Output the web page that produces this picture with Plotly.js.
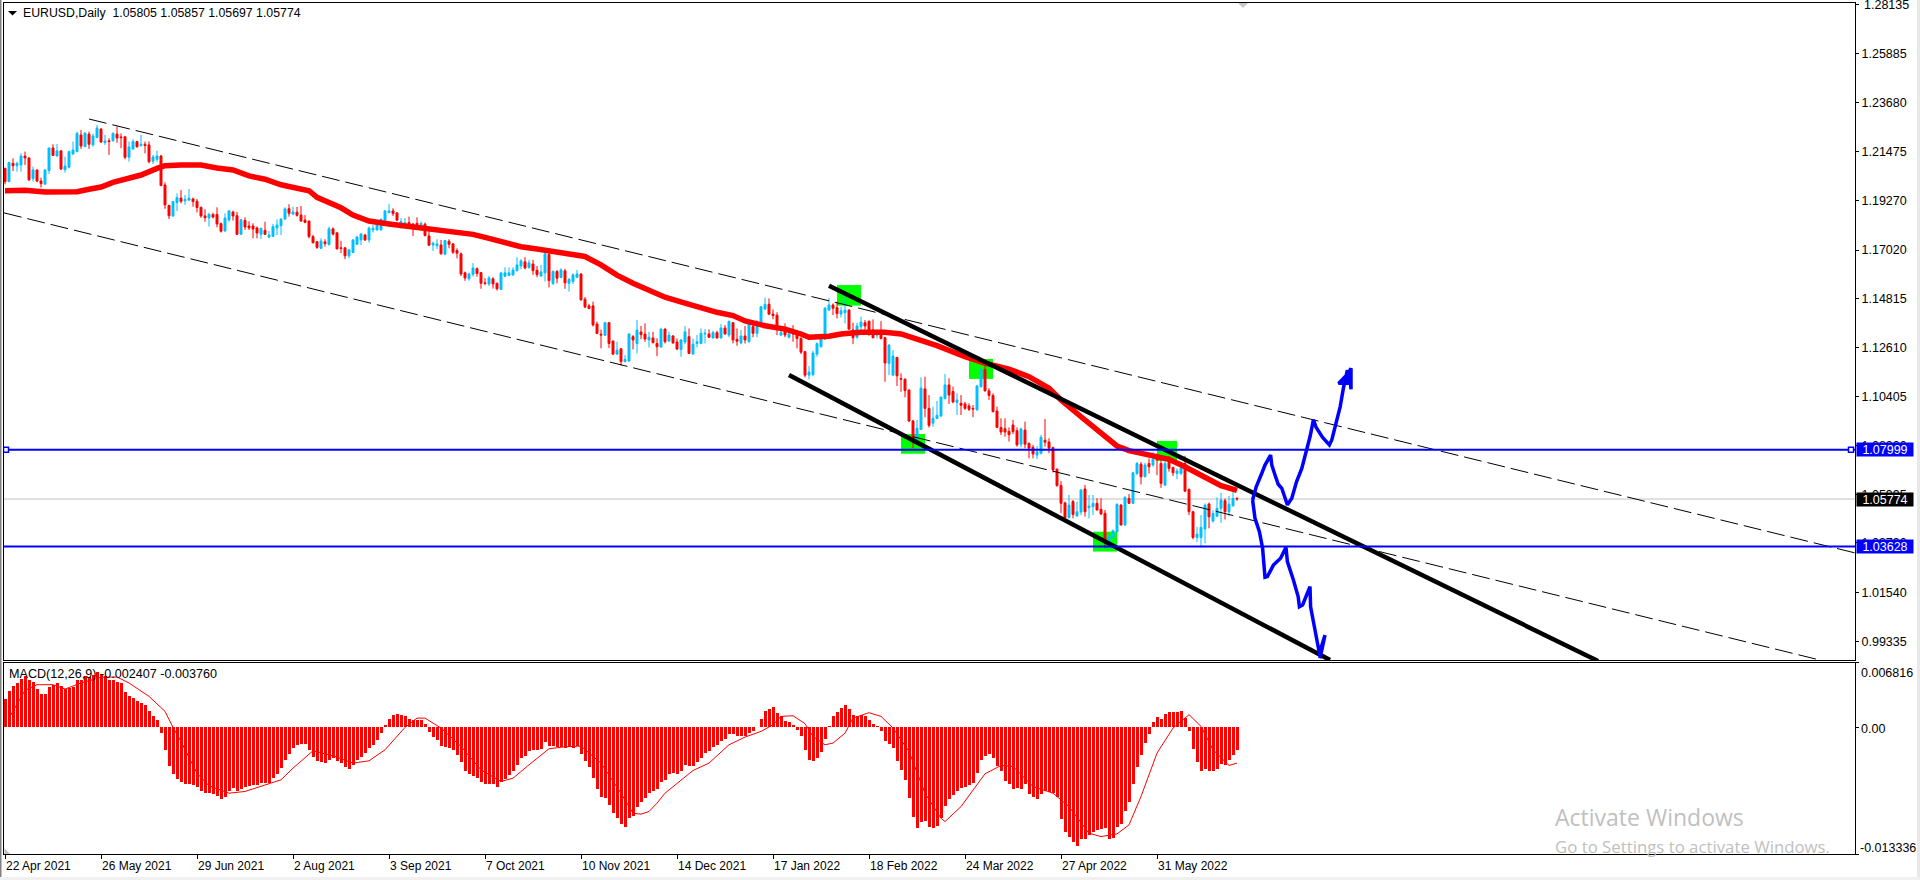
<!DOCTYPE html>
<html><head><meta charset="utf-8">
<script src="https://cdn.plot.ly/plotly-3.0.1.min.js"></script>
<style>html,body{margin:0;padding:0;background:#fff;overflow:hidden}#c{width:1920px;height:880px}</style>
</head><body><div id="c"></div>
<script>
const open=[1.2071,1.2011,1.2094,1.2083,1.2086,1.2127,1.2118,1.2025,1.2064,1.2014,
1.2000,1.2061,1.2163,1.2127,1.2150,1.2065,1.2076,1.2136,1.2147,1.2222,
1.2169,1.2226,1.2177,1.2211,1.2249,1.2187,1.2196,1.2196,1.2226,1.2213,
1.2214,1.2121,1.2159,1.2192,1.2174,1.2180,1.2177,1.2103,1.2112,1.2127,
1.1996,1.1904,1.1856,1.1916,1.1937,1.1924,1.1928,1.1933,1.1922,1.1895,
1.1856,1.1847,1.1863,1.1863,1.1821,1.1788,1.1838,1.1874,1.1857,1.1773,
1.1836,1.1811,1.1811,1.1802,1.1773,1.1791,1.1761,1.1764,1.1802,1.1812,
1.1842,1.1889,1.1865,1.1873,1.1860,1.1838,1.1833,1.1763,1.1740,
1.1710,1.1739,1.1727,1.1798,1.1780,1.1712,1.1712,1.1676,1.1691,1.1728,
1.1748,1.1770,1.1748,1.1793,1.1793,1.1793,1.1834,1.1871,1.1879,1.1870,
1.1804,1.1816,1.1826,1.1820,1.1823,1.1808,1.1819,1.1766,1.1725,1.1722,
1.1725,1.1683,1.1742,1.1730,1.1700,1.1685,1.1599,1.1572,1.1593,1.1618,
1.1600,1.1554,1.1549,1.1572,1.1552,1.1524,1.1584,1.1588,1.1590,1.1609,
1.1630,1.1649,1.1623,1.1639,1.1611,1.1585,1.1599,1.1682,1.1551,1.1605,
1.1578,1.1608,1.1552,1.1560,1.1579,1.1594,1.1480,1.1450,1.1450,1.1368,
1.1322,1.1317,1.1374,1.1291,1.1232,1.1256,1.1198,1.1201,1.1311,1.1280,
1.1332,1.1323,1.1296,1.1305,1.1280,1.1264,1.1345,1.1291,1.1314,1.1287,
1.1253,1.1287,1.1311,1.1232,1.1280,1.1280,1.1323,1.1323,1.1305,1.1329,
1.1305,1.1350,1.1318,1.1374,1.1299,1.1282,1.1314,1.1288,1.1357,1.1326,
1.1371,1.1436,1.1457,1.1413,1.1408,1.1318,1.1345,1.1308,1.1341,1.1323,
1.1303,1.1243,1.1137,1.1139,1.1232,1.1265,1.1299,1.1431,1.1454,1.1442,
1.1413,1.1419,1.1431,1.1341,1.1308,1.1356,1.1374,1.1381,1.1341,1.1318,
1.1329,1.1306,1.1190,1.1137,1.1217,1.1122,1.1119,1.1070,1.0930,1.0847,
1.0892,1.1075,1.0987,1.0920,1.0941,1.0953,1.1031,1.1093,1.1063,1.1013,
1.1010,1.1007,1.0998,1.0987,1.0980,1.1085,1.1163,1.1066,1.1045,1.0975,
1.0901,1.0895,1.0883,1.0912,1.0886,1.0825,1.0889,1.0829,1.0811,1.0776,
1.0784,1.0843,1.0835,1.0810,1.0712,1.0639,1.0560,1.0493,1.0566,1.0501,
1.0519,1.0623,1.0538,1.0543,1.0558,1.0531,1.0513,1.0383,1.0404,1.0429,
1.0550,1.0460,1.0580,1.0558,1.0693,1.0735,1.0678,1.0738,1.0731,1.0765,
1.0738,1.0640,1.0761,1.0720,1.0693,1.0693,1.0738,1.0621,1.0520,1.0404,
1.0404,1.0442,1.0555,1.0478,1.0500,1.0535,1.0570,1.0520,1.0547,1.05805];
const high=[1.2074,1.2100,1.2116,1.2101,1.2139,1.2147,1.2121,1.2079,1.2066,1.2029,
1.2067,1.2165,1.2180,1.2181,1.2154,1.2124,1.2151,1.2192,1.2237,1.2244,
1.2233,1.2237,1.2229,1.2267,1.2252,1.2222,1.2207,1.2234,1.2260,1.2229,
1.2216,1.2192,1.2202,1.2195,1.2222,1.2192,1.2193,1.2132,1.2151,1.2132,
1.2008,1.1906,1.1924,1.1958,1.1973,1.1951,1.1978,1.1939,1.1933,1.1898,
1.1886,1.1871,1.1871,1.1895,1.1826,1.1868,1.1883,1.1880,1.1875,1.1841,
1.1850,1.1832,1.1823,1.1808,1.1803,1.1830,1.1788,1.1820,1.1841,1.1845,
1.1895,1.1909,1.1898,1.1897,1.1901,1.1860,1.1835,1.1770,1.1743,
1.1755,1.1751,1.1808,1.1804,1.1781,1.1743,1.1715,1.1707,1.1751,1.1766,
1.1778,1.1775,1.1808,1.1816,1.1830,1.1845,1.1883,1.1911,1.1891,1.1873,
1.1846,1.1846,1.1853,1.1823,1.1850,1.1831,1.1826,1.1796,1.1740,1.1751,
1.1748,1.1748,1.1751,1.1733,1.1710,1.1691,1.1605,1.1600,1.1643,1.1623,
1.1603,1.1575,1.1585,1.1579,1.1555,1.1600,1.1624,1.1624,1.1624,1.1670,
1.1661,1.1670,1.1658,1.1658,1.1630,1.1635,1.1688,1.1710,1.1609,1.1612,
1.1620,1.1617,1.1575,1.1597,1.1612,1.1597,1.1490,1.1459,1.1469,1.1379,
1.1343,1.1378,1.1377,1.1293,1.1288,1.1259,1.1228,1.1326,1.1318,1.1386,
1.1359,1.1371,1.1333,1.1333,1.1303,1.1348,1.1348,1.1333,1.1318,1.1303,
1.1299,1.1359,1.1348,1.1303,1.1318,1.1348,1.1345,1.1344,1.1338,1.1338,
1.1368,1.1363,1.1383,1.1377,1.1348,1.1341,1.1359,1.1371,1.1371,1.1386,
1.1449,1.1487,1.1484,1.1434,1.1421,1.1356,1.1371,1.1348,1.1363,1.1341,
1.1308,1.1246,1.1178,1.1247,1.1284,1.1323,1.1443,1.1485,1.1461,1.1469,
1.1446,1.1491,1.1434,1.1374,1.1374,1.1401,1.1386,1.1383,1.1389,1.1341,
1.1381,1.1309,1.1276,1.1250,1.1220,1.1145,1.1122,1.1072,1.0935,1.0935,
1.1127,1.1130,1.1047,1.0995,1.1020,1.1040,1.1142,1.1123,1.1085,1.1055,
1.1047,1.1017,1.1010,1.1002,1.1093,1.1168,1.1206,1.1078,1.1055,1.0995,
1.0942,1.0942,1.0901,1.0935,1.0901,1.0900,1.0927,1.0832,1.0822,1.0817,
1.0867,1.0939,1.0852,1.0814,1.0716,1.0659,1.0566,1.0596,1.0573,1.0566,
1.0623,1.0641,1.0596,1.0596,1.0581,1.0581,1.0528,1.0420,1.0440,1.0557,
1.0555,1.0590,1.0600,1.0700,1.0745,1.0745,1.0741,1.0761,1.0791,1.0783,
1.0753,1.0761,1.0771,1.0723,1.0716,1.0746,1.0773,1.0625,1.0524,1.0452,
1.0505,1.0558,1.0561,1.0527,1.0585,1.0606,1.0580,1.0591,1.0610,1.05857];
const low=[1.1999,1.2009,1.2059,1.2056,1.2056,1.2086,1.2014,1.2011,1.2008,1.1984,
1.1996,1.2046,1.2127,1.2124,1.2064,1.2052,1.2071,1.2132,1.2144,1.2159,
1.2167,1.2159,1.2169,1.2207,1.2187,1.2177,1.2132,1.2192,1.2187,1.2162,
1.2112,1.2101,1.2154,1.2166,1.2169,1.2139,1.2094,1.2091,1.2101,1.1991,
1.1888,1.1842,1.1853,1.1879,1.1913,1.1906,1.1924,1.1898,1.1872,1.1848,
1.1830,1.1808,1.1845,1.1805,1.1781,1.1785,1.1830,1.1835,1.1770,1.1770,
1.1793,1.1793,1.1755,1.1755,1.1752,1.1770,1.1755,1.1761,1.1770,1.1770,
1.1838,1.1853,1.1860,1.1853,1.1830,1.1823,1.1755,1.1732,1.1707,
1.1706,1.1718,1.1722,1.1768,1.1706,1.1688,1.1661,1.1665,1.1688,1.1725,
1.1725,1.1743,1.1736,1.1781,1.1790,1.1790,1.1831,1.1868,1.1856,1.1834,
1.1799,1.1801,1.1801,1.1766,1.1796,1.1793,1.1763,1.1721,1.1698,1.1706,
1.1682,1.1680,1.1710,1.1685,1.1665,1.1585,1.1563,1.1564,1.1582,1.1582,
1.1527,1.1543,1.1540,1.1528,1.1519,1.1522,1.1579,1.1585,1.1585,1.1605,
1.1615,1.1615,1.1618,1.1590,1.1579,1.1582,1.1560,1.1533,1.1545,1.1552,
1.1575,1.1527,1.1514,1.1549,1.1575,1.1474,1.1439,1.1435,1.1356,1.1330,
1.1258,1.1314,1.1259,1.1228,1.1228,1.1180,1.1196,1.1198,1.1253,1.1235,
1.1299,1.1287,1.1262,1.1280,1.1223,1.1261,1.1280,1.1287,1.1280,1.1250,
1.1220,1.1277,1.1232,1.1231,1.1262,1.1277,1.1280,1.1306,1.1302,1.1302,
1.1302,1.1320,1.1308,1.1280,1.1270,1.1277,1.1280,1.1284,1.1308,1.1308,
1.1368,1.1431,1.1408,1.1389,1.1318,1.1314,1.1308,1.1303,1.1288,1.1258,
1.1232,1.1127,1.1118,1.1134,1.1220,1.1262,1.1296,1.1428,1.1408,1.1393,
1.1398,1.1371,1.1341,1.1277,1.1302,1.1333,1.1333,1.1314,1.1303,1.1303,
1.1299,1.1107,1.1137,1.1134,1.1088,1.1062,1.1037,1.0925,1.0807,1.0844,
1.0889,1.0947,1.0900,1.0904,1.0938,1.0947,1.1028,1.1007,1.1010,1.0957,
1.0957,1.0980,1.0975,1.0947,1.0977,1.1081,1.1063,1.1025,1.0969,1.0898,
1.0867,1.0859,1.0837,1.0871,1.0814,1.0811,1.0807,1.0761,1.0761,1.0758,
1.0779,1.0814,1.0784,1.0697,1.0633,1.0513,1.0483,1.0490,1.0490,1.0498,
1.0505,1.0498,1.0490,1.0505,1.0525,1.0505,1.0355,1.0365,1.0400,1.0426,
1.0458,1.0458,1.0555,1.0555,1.0685,1.0643,1.0675,1.0693,1.0723,1.0685,
1.0628,1.0637,1.0701,1.0681,1.0667,1.0685,1.0610,1.0505,1.0395,1.0384,
1.0359,1.0377,1.0445,1.0470,1.0497,1.0470,1.0485,1.0500,1.0543,1.05697];
const close=[1.2011,1.2098,1.2083,1.2094,1.2127,1.2118,1.2019,1.2064,1.2014,1.2002,
1.2064,1.2163,1.2129,1.2150,1.2068,1.2082,1.2147,1.2154,1.2229,1.2172,
1.2231,1.2180,1.2217,1.2253,1.2190,1.2195,1.2192,1.2229,1.2208,1.2210,
1.2121,1.2168,1.2192,1.2168,1.2180,1.2174,1.2101,1.2122,1.2127,1.1993,
1.1906,1.1857,1.1921,1.1939,1.1922,1.1931,1.1937,1.1921,1.1894,1.1856,
1.1848,1.1863,1.1851,1.1820,1.1787,1.1847,1.1879,1.1856,1.1773,1.1839,
1.1806,1.1802,1.1797,1.1779,1.1800,1.1773,1.1770,1.1808,1.1815,1.1842,
1.1888,1.1868,1.1874,1.1859,1.1833,1.1827,1.1763,1.1735,1.1714,
1.1743,1.1731,1.1798,1.1774,1.1707,1.1709,1.1676,1.1703,1.1748,1.1761,
1.1775,1.1748,1.1801,1.1801,1.1823,1.1841,1.1879,1.1879,1.1867,1.1837,
1.1831,1.1826,1.1804,1.1808,1.1801,1.1823,1.1768,1.1724,1.1733,1.1730,
1.1685,1.1745,1.1728,1.1692,1.1688,1.1594,1.1576,1.1594,1.1621,1.1596,
1.1552,1.1551,1.1576,1.1549,1.1527,1.1599,1.1599,1.1599,1.1612,1.1635,
1.1653,1.1621,1.1644,1.1609,1.1591,1.1603,1.1685,1.1564,1.1606,1.1575,
1.1612,1.1554,1.1570,1.1590,1.1594,1.1477,1.1445,1.1438,1.1364,1.1325,
1.1318,1.1374,1.1280,1.1232,1.1250,1.1198,1.1208,1.1323,1.1296,1.1341,
1.1320,1.1300,1.1308,1.1284,1.1265,1.1345,1.1288,1.1318,1.1282,1.1255,
1.1296,1.1333,1.1235,1.1277,1.1288,1.1326,1.1326,1.1308,1.1329,1.1305,
1.1350,1.1323,1.1380,1.1296,1.1290,1.1314,1.1296,1.1368,1.1326,1.1356,
1.1446,1.1457,1.1413,1.1406,1.1348,1.1329,1.1318,1.1323,1.1323,1.1302,
1.1241,1.1137,1.1151,1.1237,1.1280,1.1303,1.1440,1.1454,1.1439,1.1415,
1.1428,1.1431,1.1345,1.1306,1.1359,1.1377,1.1359,1.1341,1.1306,1.1333,
1.1302,1.1192,1.1273,1.1223,1.1134,1.1119,1.1067,1.0930,1.0850,1.0897,
1.1078,1.0987,1.0910,1.0942,1.0956,1.1038,1.1093,1.1047,1.1016,1.1025,
1.1001,1.0987,1.0983,1.0984,1.1088,1.1163,1.1066,1.1045,1.0972,1.0901,
1.0880,1.0880,1.0868,1.0882,1.0822,1.0894,1.0825,1.0807,1.0781,1.0791,
1.0856,1.0834,1.0807,1.0709,1.0638,1.0558,1.0493,1.0550,1.0508,1.0520,
1.0618,1.0520,1.0546,1.0558,1.0528,1.0510,1.0392,1.0410,1.0434,1.0554,
1.0460,1.0585,1.0558,1.0696,1.0738,1.0678,1.0731,1.0723,1.0758,1.0753,
1.0648,1.0738,1.0716,1.0696,1.0704,1.0716,1.0613,1.0520,1.0404,1.0419,
1.0449,1.0550,1.0497,1.0512,1.0535,1.0573,1.0520,1.0554,1.0580,1.05774];
const bars=open.map((_,i)=>i);

const maBar=[0,5,10,15,18,21,24,27,30,34,38,40,44,49,53,57,61,65,69,72,76,78,84,87,91,96,100,104,109,113,117,121,125,129,133,137,141,145,149,153,157,161,165,170,174,178,182,185,190,195,199,201,206,209,214,220,224,229,233,240,245,251,256,261,264,269,274,278,281,286,291,295,300,304,308];
const maPrice=[1.1970,1.1972,1.1964,1.1963,1.1966,1.1977,1.1987,1.2008,1.2022,1.2041,1.2071,1.2083,1.2086,1.2086,1.2073,1.2064,1.2037,1.2022,1.1997,1.1986,1.1970,1.1940,1.1893,1.1860,1.1833,1.1820,1.1811,1.1803,1.1796,1.1788,1.1773,1.1755,1.1735,1.1717,1.1707,1.1696,1.1687,1.1673,1.1635,1.1589,1.1552,1.1518,1.1489,1.1462,1.1439,1.1421,1.1406,1.1382,1.1360,1.1345,1.1323,1.1308,1.1313,1.1323,1.1331,1.1331,1.1323,1.1293,1.1270,1.1220,1.1191,1.1164,1.1130,1.1078,1.1025,1.0949,1.0874,1.0817,1.0796,1.0776,1.0757,1.0723,1.0678,1.0638,1.0617];

// MACD values in units of 0.00001
const macdHist=[302,387,433,468,513,545,496,478,408,348,348,422,443,471,433,404,419,426,499,503,
538,528,556,584,566,538,503,496,482,468,376,334,309,278,257,239,169,116,74,-60,
-243,-411,-489,-542,-570,-591,-594,-605,-623,-665,-696,-696,-700,-721,-749,-728,-675,-640,-668,-651,
-633,-615,-605,-605,-587,-584,-584,-535,-492,-429,-345,-278,-222,-190,-179,-176,-236,-313,-352,-362,
-380,-348,-324,-352,-376,-422,-433,-394,-348,-313,-271,-222,-183,-130,-60,28,91,134,144,127,
123,88,74,74,74,32,-53,-106,-137,-200,-211,-222,-243,-292,-369,-454,-496,-510,-531,-570,
-601,-601,-601,-623,-580,-545,-499,-454,-394,-327,-299,-253,-236,-236,-232,-158,-193,-200,-207,-211,
-218,-204,-215,-197,-278,-359,-422,-535,-644,-732,-742,-816,-897,-953,-1016,-1045,-957,-928,-834,-781,
-739,-686,-665,-647,-573,-552,-496,-482,-489,-454,-394,-411,-404,-369,-317,-271,-246,-204,-190,-141,
-123,-67,-74,-95,-95,-95,-60,-42,4,91,176,197,218,155,123,70,60,28,-25,-95,
-236,-341,-352,-320,-264,-120,18,116,165,208,239,197,134,123,130,116,81,39,14,-35,
-141,-172,-222,-352,-447,-552,-739,-943,-1055,-992,-985,-1048,-1055,-1034,-950,-826,-753,-707,-668,-640,
-623,-608,-587,-478,-341,-299,-278,-317,-404,-464,-563,-598,-647,-637,-644,-601,-703,-728,-749,-700,
-668,-679,-686,-732,-960,-1097,-1157,-1210,-1245,-1175,-1175,-1136,-1101,-1080,-1069,-1055,-1171,-1161,-1048,-1013,
-879,-781,-601,-415,-295,-169,-74,56,113,91,144,165,165,165,176,98,-42,-232,-369,-454,
-440,-464,-464,-433,-383,-394,-348,-288,-241];
const sigBar=[1,3,5,8,12,15,19,24,28,31,36,40,42,44,48,51,56,60,65,69,72,77,82,87,91,95,100,103,105,109,114,119,124,127,131,136,140,144,149,154,157,159,161,163,165,168,172,176,181,185,189,192,194,197,200,202,205,207,210,212,216,219,222,226,230,234,235,239,245,249,252,257,262,266,271,274,278,281,284,288,292,296,299,302,306,308];
const macdSignal=[98,239,390,450,450,404,468,528,531,468,327,169,0,-148,-482,-615,-693,-675,-605,-552,-429,-246,-299,-376,-352,-236,0,98,98,-7,-200,-447,-570,-535,-394,-225,-204,-197,-376,-693,-904,-914,-886,-798,-693,-587,-454,-376,-183,-102,-42,28,116,123,39,-95,-183,-165,-60,98,155,116,-7,-253,-693,-957,-992,-834,-489,-401,-411,-622,-693,-834,-1115,-1150,-1122,-1027,-728,-271,-7,134,11,-236,-401,-376];

const dateLabels=['22 Apr 2021','26 May 2021','29 Jun 2021','2 Aug 2021','3 Sep 2021','7 Oct 2021','10 Nov 2021','14 Dec 2021','17 Jan 2022','18 Feb 2022','24 Mar 2022','27 Apr 2022','31 May 2022'];
const dateBars=[0,24,48,72,96,120,144,168,192,216,240,264,288];
const priceTicks=[1.28135,1.25885,1.23680,1.21475,1.19270,1.17020,1.14815,1.12610,1.10405,1.08200,1.05995,1.03790,1.01540,0.99335];
const priceLabels=priceTicks.map((v,i)=>i===0?'':v.toFixed(5));

const levelA=1.07999, levelB=1.03628, lastPrice=1.05774;
const dashTopBar=[21,462.5], dashTopPrice=[1.2294,1.0334];
const dashLowBar=[-0.25,453.75], dashLowPrice=[1.1870,0.9850];
const trendTopBar=[206,398.25], trendTopPrice=[1.1541,0.98458];
const trendLowBar=[196,331.25], trendLowPrice=[1.1138,0.98504];

const upBar=[311.9,312.8,314.2,315.0,316.4,316.7,317.5,318.3,319.2,320.0,320.6,321.7,322.9,324.2,325.4,326.3,327.1,327.8,329.4,331.1,331.7,332.9,333.8,334.6,335.6,335.6,333.4,335.8,336.5,336.5,336.1];
const upPrice=[1.0573,1.0633,1.0694,1.0731,1.0776,1.0731,1.0686,1.0644,1.0626,1.0581,1.0551,1.0581,1.0656,1.0716,1.0799,1.0862,1.0935,1.0901,1.0856,1.0822,1.0844,1.0927,1.0995,1.1078,1.1160,1.1100,1.1100,1.1145,1.1168,1.1073,1.1160];
const downBar=[311.9,312.5,313.6,314.4,315.0,315.6,317.1,318.9,320.25,320.6,322.1,323.3,323.6,324.4,326.25,326.4,327.5,328.75,327.75,328.6,330,329.4,328.75];
const downPrice=[1.0573,1.0490,1.0430,1.0355,1.0224,1.0227,1.0279,1.0310,1.0359,1.0295,1.0212,1.0136,1.0091,1.0099,1.0182,1.0091,0.9986,0.9866,0.9948,0.9880,0.9963,0.9910,0.9858];

// green zones: bar from, bar to, price low, price high
const zoneBar0=[208,241,224,272,288], zoneBar1=[214,247,230,278,293];
const zoneLow=[1.1451,1.1120,1.0782,1.0340,1.0749], zoneHigh=[1.1544,1.1210,1.0871,1.0430,1.0840];

const W=1920,H=880;
const px=x=>x/W, py=y=>1-y/H;
const red='#ff0000', sky='#00bfff', blue='#0000ff';
const font='"Liberation Sans", Arial, sans-serif';
const wmFont='"Open Sans", sans-serif';

const lineTrace=(x,y,color,width,dash,ax)=>({type:'scatter',mode:'lines',x,y,xaxis:ax?'x2':'x',yaxis:ax?'y2':'y',
  line:{color,width,dash:dash||'solid'},hoverinfo:'skip',showlegend:false});

const xRange=[-0.25,462.5];
const traces=[
 {type:'candlestick',x:bars,open,high,low,close,xaxis:'x',yaxis:'y',showlegend:false,hoverinfo:'skip',whiskerwidth:0,
  increasing:{line:{color:sky,width:1},fillcolor:sky},decreasing:{line:{color:red,width:1},fillcolor:red}},
 lineTrace(maBar,maPrice,red,5.5),
 lineTrace(dashTopBar,dashTopPrice,'#000',1,'18px,6px'),
 lineTrace(dashLowBar,dashLowPrice,'#000',1,'18px,6px'),
 lineTrace(trendTopBar,trendTopPrice,'#000',4.5),
 lineTrace(trendLowBar,trendLowPrice,'#000',4.5),
 lineTrace(xRange,[levelA,levelA],blue,2),
 lineTrace(xRange,[levelB,levelB],blue,2),
 lineTrace(upBar,upPrice,blue,3.5),
 lineTrace(downBar,downPrice,blue,3.5),
 {type:'scatter',mode:'markers',x:[0.25,461.5],y:[levelA,levelA],xaxis:'x',yaxis:'y',showlegend:false,hoverinfo:'skip',
  marker:{symbol:'square',size:5,color:'#fff',line:{color:blue,width:1.5}}},
 {type:'bar',x:bars,y:macdHist.map(v=>v*1e-5),xaxis:'x2',yaxis:'y2',width:0.75,marker:{color:red,line:{width:0}},showlegend:false,hoverinfo:'skip'},
 lineTrace(sigBar,macdSignal.map(v=>v*1e-5),red,1,null,true)
];

const shapes=[
 {type:'line',xref:'x',yref:'y',layer:'below',x0:xRange[0],x1:xRange[1],y0:lastPrice,y1:lastPrice,line:{color:'#c0c0c0',width:1}},
 {type:'rect',xref:'paper',yref:'paper',layer:'below',x0:0,x1:px(1.5),y0:0,y1:1,fillcolor:'#808080',line:{width:0}},
 {type:'rect',xref:'paper',yref:'paper',layer:'below',x0:px(1917),x1:1,y0:0,y1:1,fillcolor:'#e8e8e8',line:{width:0}},
 {type:'rect',xref:'paper',yref:'paper',layer:'below',x0:0,x1:1,y0:0,y1:py(877),fillcolor:'#f0f0f0',line:{width:0}},
 {type:'path',xref:'paper',yref:'paper',path:`M ${px(8)} ${py(11)} L ${px(17)} ${py(11)} L ${px(12.5)} ${py(15.5)} Z`,fillcolor:'#000',line:{width:0}},
 {type:'path',xref:'paper',yref:'paper',path:`M ${px(4.5)} ${py(848)} L ${px(10)} ${py(854)} L ${px(4.5)} ${py(854)} Z`,fillcolor:'#c0c0c0',line:{width:0}},
 {type:'path',xref:'paper',yref:'paper',path:`M ${px(1238)} ${py(3)} L ${px(1248)} ${py(3)} L ${px(1243)} ${py(8)} Z`,fillcolor:'#c8c8c8',line:{width:0}}
];
zoneBar0.forEach((b,i)=>shapes.push({type:'rect',xref:'x',yref:'y',layer:'below',x0:b,x1:zoneBar1[i],y0:zoneLow[i],y1:zoneHigh[i],fillcolor:'#00ff00',line:{width:0}}));

const note=(text,x,y,size,color,anchor,family)=>({text,xref:'paper',yref:'paper',x:px(x),y:py(y),xanchor:anchor||'left',yanchor:'middle',showarrow:false,
  font:{family:family||font,size:size||12,color:color||'#000'},borderpad:0});
const tag=(text,y,bg)=>({text,xref:'paper',yref:'y',x:px(1885),y,xanchor:'center',yanchor:'middle',showarrow:false,
  bgcolor:bg,width:56,height:13,borderpad:0,font:{family:font,size:12.5,color:'#fff'}});

const annotations=[
 note('1.28135',1863,5,12.5),
 note('EURUSD,Daily&nbsp;&nbsp;1.05805 1.05857 1.05697 1.05774',22,13,12.3),
 note('MACD(12,26,9) -0.002407 -0.003760',8,674,12.6),
 note('0.006816',1860,673,12.5),
 note('0.00',1860,729,12.5),
 note('-0.013336',1859,847.5,12.5),
 note('Activate Windows',1554,817,23,'#c0c0c0','left',wmFont),
 note('Go to Settings to activate Windows.',1554,846,16.8,'#c0c0c0','left',wmFont),
 tag('1.07999',levelA,blue),tag('1.05774',lastPrice,'#000'),tag('1.03628',levelB,blue)
];
dateLabels.forEach((t,i)=>annotations.push(note(t,4.5+dateBars[i]*4,866,12)));

const layout={width:W,height:H,margin:{l:0,r:0,t:0,b:0,pad:0},paper_bgcolor:'#fff',plot_bgcolor:'#fff',showlegend:false,
 bargap:0,barmode:'overlay',
 font:{family:font,size:12.5,color:'#000'},
 xaxis:{domain:[px(4),px(1855)],range:xRange,anchor:'y',showgrid:false,zeroline:false,showticklabels:false,ticks:'',showline:true,mirror:true,linecolor:'#000',linewidth:1,rangeslider:{visible:false},fixedrange:true},
 yaxis:{domain:[py(660),py(2.7)],range:[0.98503,1.28194],side:'right',anchor:'x',showgrid:false,zeroline:false,showline:true,mirror:true,linecolor:'#000',linewidth:1,
  tickmode:'array',tickvals:priceTicks,ticktext:priceLabels,ticks:'outside',ticklen:3,tickcolor:'#000',tickfont:{family:font,size:12.5,color:'#000'},fixedrange:true},
 xaxis2:{domain:[px(4),px(1855)],range:xRange,anchor:'y2',showgrid:false,zeroline:false,showline:true,mirror:true,linecolor:'#000',linewidth:1,
  tickmode:'array',tickvals:dateBars,ticktext:dateBars.map(()=>''),ticks:'outside',ticklen:4,tickcolor:'#000',fixedrange:true},
 yaxis2:{domain:[py(854),py(662.7)],range:[-0.013336,0.006816],side:'right',anchor:'x2',showgrid:false,zeroline:false,showline:true,mirror:true,linecolor:'#000',linewidth:1,
  tickmode:'array',tickvals:[0.006816,0,-0.013336],ticktext:['','',''],ticks:'outside',ticklen:3,tickcolor:'#000',fixedrange:true},
 shapes,annotations
};
Plotly.newPlot('c',traces,layout,{displayModeBar:false,staticPlot:true});
</script></body></html>
